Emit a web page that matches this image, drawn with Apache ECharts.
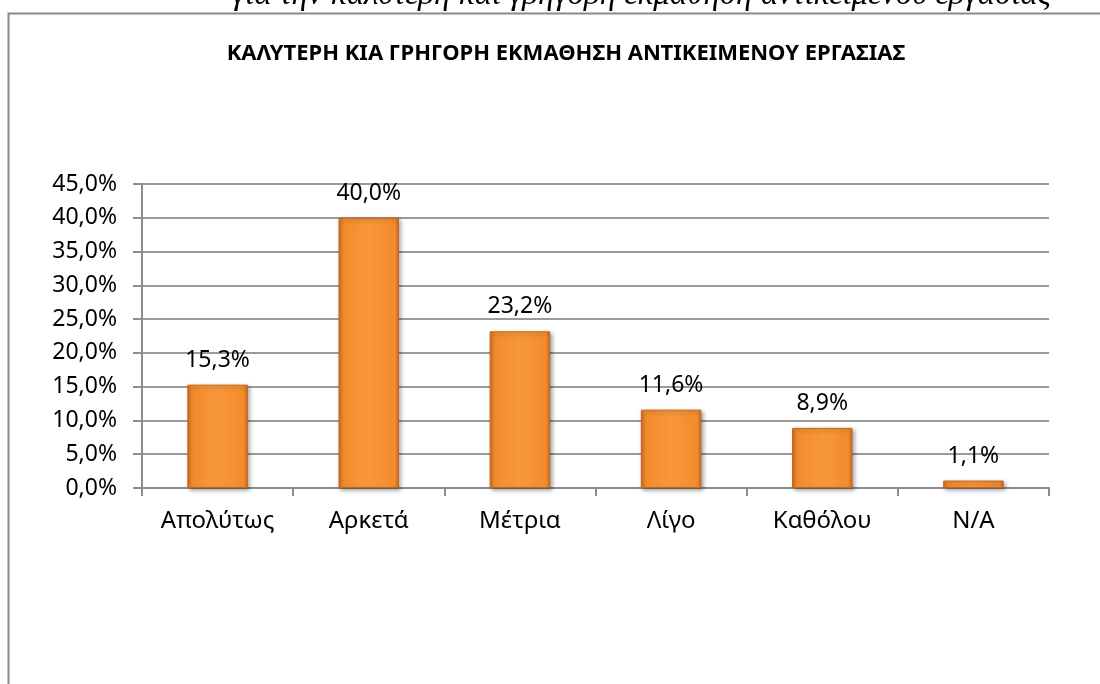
<!DOCTYPE html>
<html>
<head>
<meta charset="utf-8">
<script src="https://cdn.jsdelivr.net/npm/echarts@6/dist/echarts.min.js"></script>
<style>
  html, body { margin: 0; padding: 0; background: #fff; }
</style>
</head>
<body>
<div id="myChart" style="width: 1100px; height: 684px;"></div>
<script>
// data
var categories = ['Απολύτως', 'Αρκετά', 'Μέτρια', 'Λίγο', 'Καθόλου', 'N/A']
var percentValues = [15.3, 40.0, 23.2, 11.6, 8.9, 1.1]
var yTicks = [0, 5, 10, 15, 20, 25, 30, 35, 40, 45]

var titleText = 'ΚΑΛΥΤΕΡΗ ΚΙΑ ΓΡΗΓΟΡΗ ΕΚΜΑΘΗΣΗ ΑΝΤΙΚΕΙΜΕΝΟΥ ΕΡΓΑΣΙΑΣ'
var captionText = 'για την καλύτερη και γρήγορη εκμάθηση αντικειμένου εργασίας'

function pct(v) {
  return v.toFixed(1).replace('.', ',') + '%'
}

var myChart = echarts.init(document.getElementById('myChart'))

var barColor = new echarts.graphic.LinearGradient(0, 0, 1, 0, [
  { offset: 0, color: '#d06a18' },
  { offset: 0.07, color: '#f28c2e' },
  { offset: 0.5, color: '#f8983a' },
  { offset: 0.93, color: '#f28c2e' },
  { offset: 1, color: '#d06a18' },
])

var option = {
  backgroundColor: '#ffffff',
  textStyle: { fontFamily: 'Noto Sans' },
  title: {
    text: titleText,
    left: 561,
    top: 38,
    textAlign: 'center',
    textStyle: {
      fontFamily: 'Noto Sans',
      fontSize: 22,
      fontWeight: 'bold',
      color: '#000',
    },
  },
  graphic: [
    {
      type: 'text',
      left: 232,
      top: -21,
      style: {
        text: captionText,
        font: 'italic 33px "Liberation Serif"',
        fill: '#000',
      },
    },
    {
      type: 'polyline',
      shape: { points: [[8.5, 684], [8.5, 13.5], [1100, 13.5]] },
      style: { stroke: '#8a8a8a', lineWidth: 2, fill: null },
    },
  ],
  grid: {
    left: 142,
    right: 51,
    top: 184,
    bottom: 196,
  },
  xAxis: {
    type: 'category',
    data: categories,
    axisLine: { lineStyle: { color: '#8c8c8c', width: 2 } },
    axisTick: { show: true, length: 8, lineStyle: { color: '#8c8c8c', width: 2 } },
    axisLabel: {
      margin: 21,
      fontSize: 24,
      color: '#000',
      fontFamily: 'Noto Sans',
    },
  },
  yAxis: {
    type: 'value',
    min: yTicks[0],
    max: yTicks[yTicks.length - 1],
    interval: 5,
    axisLine: { show: true, lineStyle: { color: '#8c8c8c', width: 2 } },
    axisTick: { show: true, length: 9, lineStyle: { color: '#8c8c8c', width: 2 } },
    splitLine: { lineStyle: { color: '#9a9a9a', width: 2 } },
    axisLabel: {
      margin: 25,
      fontSize: 23,
      color: '#000',
      fontFamily: 'Noto Sans',
      formatter: function (v) { return pct(v) },
    },
  },
  series: [
    {
      type: 'bar',
      data: percentValues,
      barWidth: '40%',
      itemStyle: {
        color: barColor,
        borderColor: '#c8641a',
        borderWidth: 1,
        shadowColor: 'rgba(0, 0, 0, 0.35)',
        shadowBlur: 4,
        shadowOffsetX: 2,
        shadowOffsetY: 2,
      },
      label: {
        show: true,
        position: 'top',
        distance: 13,
        fontSize: 23,
        color: '#000',
        fontFamily: 'Noto Sans',
        formatter: function (p) { return pct(p.value) },
      },
    },
  ],
}

myChart.setOption(option)
</script>
</body>
</html>
